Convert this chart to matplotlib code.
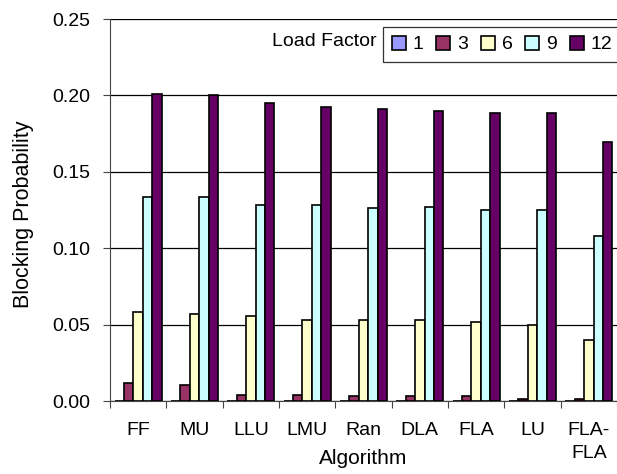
import numpy as np
import matplotlib.pyplot as plt

plt.rcParams['font.family'] = ['Liberation Sans', 'DejaVu Sans']
FS = 14

# Blocking probability per algorithm for each load factor
algorithms = ['FF', 'MU', 'LLU', 'LMU', 'Ran', 'DLA', 'FLA', 'LU', 'FLA-\nFLA']
load_factors = ['1', '3', '6', '9', '12']
lf1 = [0.0, 0.0, 0.0, 0.0, 0.0, 0.0, 0.0, 0.0, 0.0]
lf3 = [0.012, 0.0105, 0.004, 0.004, 0.003, 0.003, 0.003, 0.001, 0.001]
lf6 = [0.058, 0.057, 0.0555, 0.053, 0.053, 0.053, 0.0515, 0.050, 0.040]
lf9 = [0.1335, 0.1335, 0.1285, 0.1285, 0.126, 0.127, 0.1248, 0.1248, 0.108]
lf12 = [0.201, 0.200, 0.195, 0.1925, 0.191, 0.190, 0.1888, 0.1888, 0.1695]
colors = ['#9999FF', '#993366', '#FFFFCC', '#CCFFFF', '#660066']

series = [lf1, lf3, lf6, lf9, lf12]

fig = plt.figure(figsize=(6.17, 4.74), dpi=100)
ax = fig.add_axes([110/617, 1 - 401/474, 1 - 110/617, (401 - 19)/474])

x = np.arange(len(algorithms))
w = 0.167
for i, (vals, c, lab) in enumerate(zip(series, colors, load_factors)):
    ax.bar(x + (i - 2) * w, vals, w, color=c, edgecolor='black',
           linewidth=1.2, label=lab, zorder=3)

ax.set_xlim(-0.5, len(algorithms) - 0.5)
ax.set_ylim(0, 0.25)
yt = np.arange(0, 0.2501, 0.05)
ax.set_yticks(yt)
ax.set_yticklabels([f'{v:.2f}' for v in yt])
ax.yaxis.grid(True, color='black', linewidth=0.9, zorder=0)

ax.set_xticks(x)
ax.set_xticklabels(algorithms, linespacing=1.45)
ax.set_xticks(np.arange(-0.5, len(algorithms)), minor=True)
ax.tick_params(axis='x', which='major', length=0, pad=15, labelsize=FS)
ax.tick_params(axis='x', which='minor', length=5, width=0.8, color='#444444')
ax.tick_params(axis='y', length=5, width=0.8, color='#444444', labelsize=FS,
               pad=9.5)

for s in ['top', 'right']:
    ax.spines[s].set_visible(False)
ax.spines['left'].set_color('#444444')
ax.spines['bottom'].set_color('#444444')

ax.set_ylabel('Blocking Probability', fontsize=15.5)
ax.yaxis.set_label_coords(-(110 - 34) / 507, 0.49)
ax.set_xlabel('Algorithm', fontsize=15)
ax.xaxis.set_label_coords(0.5, -48 / 382)

leg = fig.legend(loc='upper left', bbox_to_anchor=(383/617, 1 - 27/474),
                 ncol=5, frameon=True, fancybox=False, fontsize=FS,
                 handlelength=0.72, handleheight=0.72, handletextpad=0.37,
                 columnspacing=0.64, borderpad=0.45, borderaxespad=0)
leg.get_frame().set_edgecolor('black')
leg.get_frame().set_linewidth(0.9)
fig.text(272/617, 1 - 42/474, 'Load Factor', fontsize=FS, va='center')

fig.savefig('out.png', dpi=100)
